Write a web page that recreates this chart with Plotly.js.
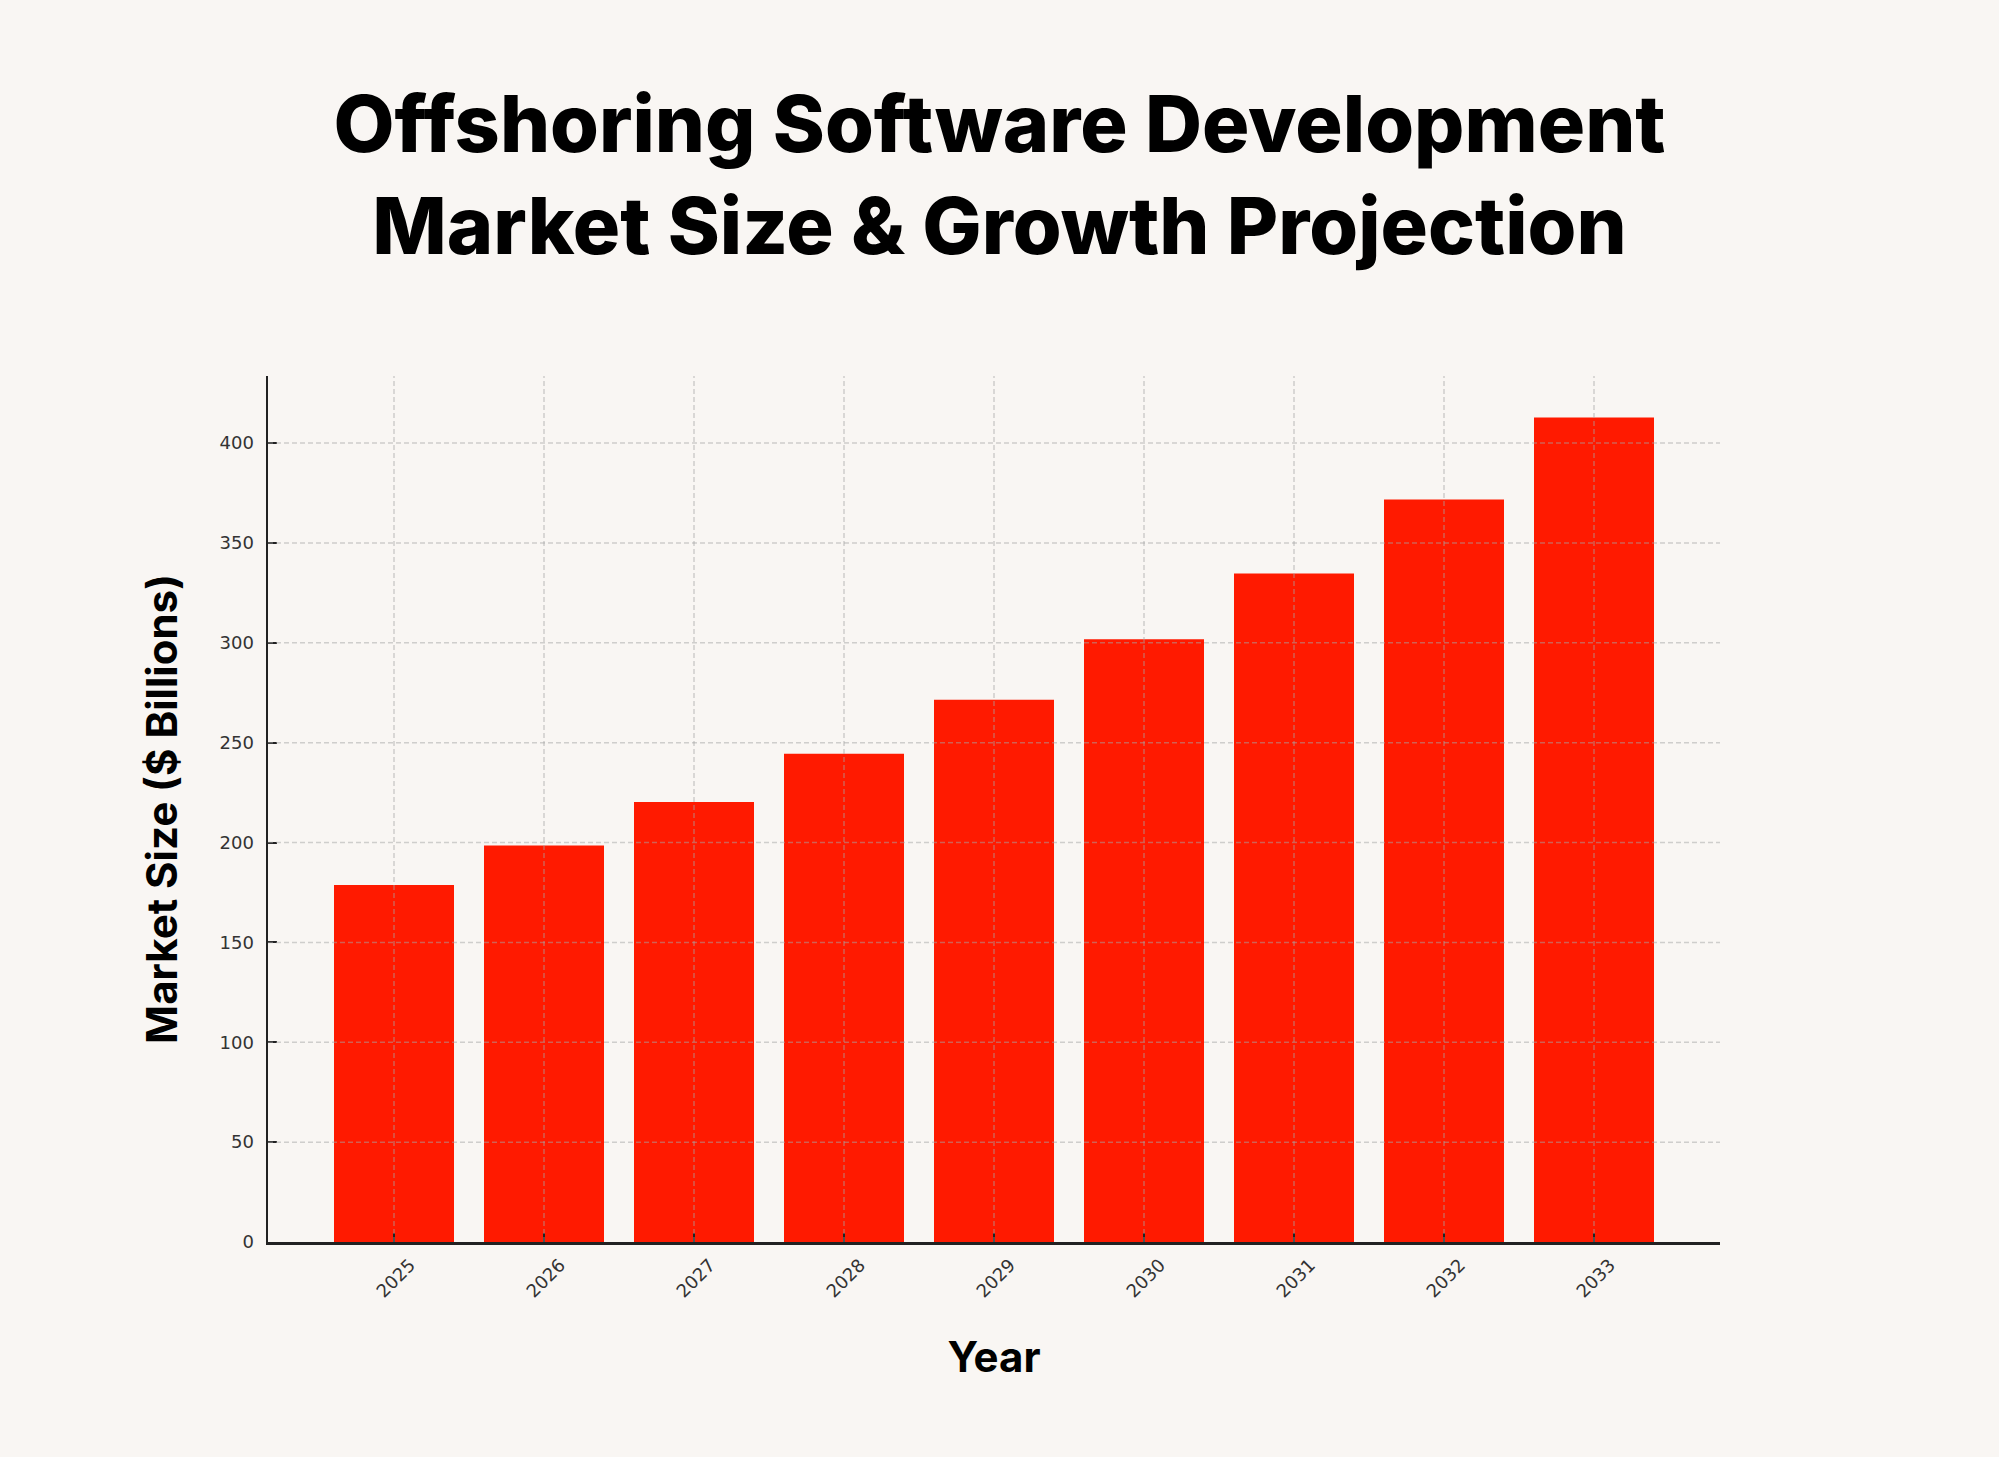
<!DOCTYPE html>
<html>
<head>
<meta charset="utf-8">
<script src="https://cdn.plot.ly/plotly-3.0.1.min.js"></script>
<style>
  html, body { margin: 0; padding: 0; background: #f9f6f3; }
  #chart { width: 1999px; height: 1457px; }
</style>
</head>
<body>
<div id="chart"></div>
<script>
// market size in $ billions
var years = ['2025', '2026', '2027', '2028', '2029', '2030', '2031', '2032', '2033'];
var marketSize = [178.8, 198.5, 220.3, 244.5, 271.5, 301.8, 334.7, 371.8, 412.8];
var yTicks = [0, 50, 100, 150, 200, 250, 300, 350, 400];

var bg = '#f9f6f3';
var gridStyle = { color: 'rgba(165,165,165,0.5)', width: 1.5, dash: '5px,3px' };

// dashed grid drawn over the bars, one line per category / tick
var shapes = [];
years.forEach(function (yr, i) {
    shapes.push({ type: 'line', layer: 'above', xref: 'x', yref: 'paper',
        x0: i, x1: i, y0: 0, y1: 1, line: gridStyle });
});
yTicks.slice(1).forEach(function (v) {
    shapes.push({ type: 'line', layer: 'above', xref: 'paper', yref: 'y',
        x0: 0, x1: 1, y0: v, y1: v, line: gridStyle });
});

var bars = {
    type: 'bar',
    x: years,
    y: marketSize,
    width: 0.8,
    marker: { color: '#ff1a00', line: { width: 0 } },
    hoverinfo: 'x+y'
};

var tickFont = { family: 'DejaVu Sans', size: 18, color: '#333333' };
var titleFont = { family: 'Inter', size: 42, color: '#000000', weight: 700 };

var layout = {
    width: 1999,
    height: 1457,
    paper_bgcolor: bg,
    plot_bgcolor: bg,
    margin: { l: 268, r: 279, t: 376, b: 215 },
    showlegend: false,
    title: {
        text: 'Offshoring Software Development<br>Market Size & Growth Projection',
        font: { family: 'Inter', size: 79, color: '#000000', weight: 800 },
        x: 0.5, xref: 'container', xanchor: 'center',
        y: 0.896, yref: 'container', yanchor: 'middle'
    },
    xaxis: {
        type: 'category',
        range: [-0.84, 8.84],
        showgrid: false,
        showline: true, linecolor: '#222222', linewidth: 2.5,
        ticks: 'inside', ticklen: 9, tickwidth: 2, tickcolor: '#222222',
        tickangle: -45,
        ticklabelshift: 16,
        ticklabelstandoff: 3,
        tickfont: tickFont,
        layer: 'above traces',
        title: { text: 'Year', font: titleFont, standoff: 42 }
    },
    yaxis: {
        range: [0, 433.6],
        tickvals: yTicks,
        showgrid: false,
        zeroline: false,
        showline: true, linecolor: '#222222', linewidth: 2.5,
        ticks: 'inside', ticklen: 9, tickwidth: 2, tickcolor: '#222222',
        ticklabelstandoff: 8,
        tickfont: tickFont,
        layer: 'above traces',
        title: { text: 'Market Size ($ Billions)', font: titleFont, standoff: 29 }
    },
    shapes: shapes
};

Plotly.newPlot('chart', [bars], layout, { displayModeBar: false, staticPlot: true });
</script>
</body>
</html>
